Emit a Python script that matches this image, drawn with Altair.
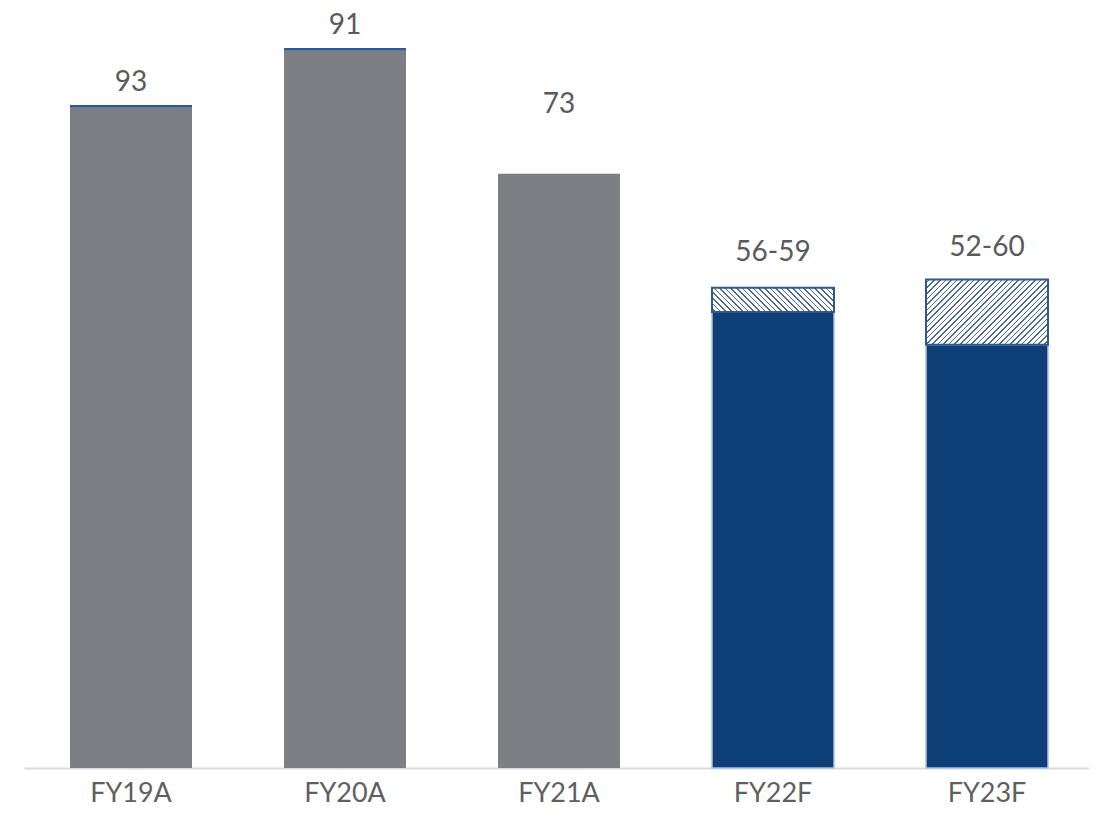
import altair as alt
import pandas as pd

# ---- data ----
categories = ["FY19A", "FY20A", "FY21A", "FY22F", "FY23F"]
kinds = ["actual", "actual", "actual", "forecast", "forecast"]
base_values = [81.1, 88.1, 73.0, 56.0, 52.0]
top_values = [81.45, 88.45, 73.0, 59.0, 60.0]
label_texts = ["93", "91", "73", "56-59", "52-60"]
label_pos = [84.15, 91.2, 81.4, 63.25, 63.85]

df = pd.DataFrame({
    "cat": categories,
    "kind": kinds,
    "base": base_values,
    "top": top_values,
    "label": label_texts,
    "lpos": label_pos,
})

# ---- layout ----
W, H = 1062, 749
X_RANGE = 1070
Y_MAX = 92
PX_PER_UNIT = H / Y_MAX
PAD_INNER = 0.43
BAND_W = (X_RANGE / len(categories)) * (1 - PAD_INNER)

GREY = "#7e7f84"
BLUE = "#0f3f77"
LINE_BLUE = "#2f5a97"
HATCH_STROKE = "#30588c"
STRIPE = "#4a6894"
FONT = "Lato"


def hatch(cat, direction):
    """Diagonal stripes built from a sharp-stop linear gradient."""
    i = categories.index(cat)
    w = BAND_W
    h = (top_values[i] - base_values[i]) * PX_PER_UNIT
    s = (w + h) / (w * w + h * h)
    if direction == "up":  # '/'
        x1, y1, x2, y2 = 0, 0, w * s, h * s
    else:  # '\'
        x1, y1, x2, y2 = 0, 1, w * s, 1 - h * s
    period = 5.6 / (w + h)
    sw = 1.6 / (w + h)
    stops = [{"offset": 0, "color": "white"}]
    t = period * 0.5
    while t + sw < 1:
        stops += [
            {"offset": t, "color": "white"},
            {"offset": t, "color": STRIPE},
            {"offset": t + sw, "color": STRIPE},
            {"offset": t + sw, "color": "white"},
        ]
        t += period
    stops.append({"offset": 1, "color": "white"})
    return {"gradient": "linear", "x1": x1, "y1": y1, "x2": x2, "y2": y2, "stops": stops}


x_enc = alt.X(
    "cat:N",
    sort=categories,
    scale=alt.Scale(paddingInner=PAD_INNER, paddingOuter=PAD_INNER / 2, range=[0, X_RANGE]),
    axis=alt.Axis(
        title=None,
        ticks=False,
        labelAngle=0,
        labelFont=FONT,
        labelFontSize=27,
        labelColor="#5f5f5f",
        labelPadding=12,
        domainColor="#d9d9d9",
        domainWidth=2,
        grid=False,
    ),
)
y_scale = alt.Scale(domain=[0, Y_MAX], nice=False, zero=True)

base = alt.Chart(df)

actual_bars = base.transform_filter(alt.datum.kind == "actual").mark_bar(
    color=GREY
).encode(
    x=x_enc,
    y=alt.Y("base:Q", scale=y_scale, axis=None),
    y2=alt.datum(0),
)

forecast_bars = base.transform_filter(alt.datum.kind == "forecast").mark_bar(
    color=BLUE, stroke="#a7c1e2", strokeWidth=1.5
).encode(
    x=x_enc,
    y=alt.Y("base:Q", scale=y_scale, axis=None),
    y2=alt.datum(0),
)

top_lines = base.transform_filter(alt.datum.kind == "actual").mark_bar(
    color=LINE_BLUE
).encode(
    x=x_enc,
    y=alt.Y("top:Q", scale=y_scale, axis=None),
    y2="base:Q",
)

hatch22 = base.transform_filter(alt.datum.cat == "FY22F").mark_bar(
    fill=hatch("FY22F", "down"), stroke=HATCH_STROKE, strokeWidth=2
).encode(
    x=x_enc,
    y=alt.Y("top:Q", scale=y_scale, axis=None),
    y2="base:Q",
)

hatch23 = base.transform_filter(alt.datum.cat == "FY23F").mark_bar(
    fill=hatch("FY23F", "up"), stroke=HATCH_STROKE, strokeWidth=2
).encode(
    x=x_enc,
    y=alt.Y("top:Q", scale=y_scale, axis=None),
    y2="base:Q",
)

labels = base.mark_text(
    font=FONT, fontSize=28, color="#5a5a5a", baseline="middle", align="center", clip=False
).encode(
    x=x_enc,
    y=alt.Y("lpos:Q", scale=y_scale, axis=None),
    text="label:N",
)

chart = alt.layer(
    actual_bars, forecast_bars, top_lines, hatch22, hatch23, labels
).properties(
    width=W,
    height=H,
    padding={"left": 16, "top": 11, "right": 3, "bottom": 40},
    autosize=alt.AutoSizeParams(type="none"),
).configure(background="white").configure_view(stroke=None)

chart.save("out.html", embed_options={"renderer": "svg", "actions": False})
